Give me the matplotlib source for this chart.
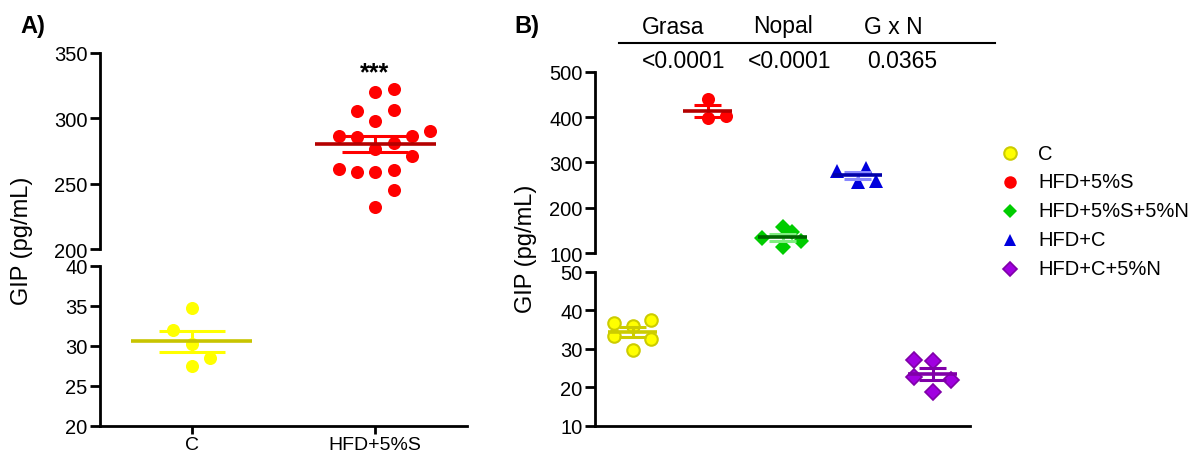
import numpy as np
import matplotlib
matplotlib.use("Agg")
import matplotlib.pyplot as plt
from matplotlib.lines import Line2D

plt.rcParams['font.family'] = ['Liberation Sans', 'DejaVu Sans']

# ---------------- data ----------------
a_categories = ["C", "HFD+5%S"]
a_c_values = [34.8, 32.0, 30.2, 28.5, 27.5]
a_hfd_values = [320.0, 322.5, 305.4, 306.4, 297.7, 286.2, 285.5, 286.2, 290.0,
                280.9, 276.6, 271.4, 261.3, 259.2, 258.7, 260.5, 245.2, 232.4]

b_groups = ["C", "HFD+5%S", "HFD+5%S+5%N", "HFD+C", "HFD+C+5%N"]
b_c_values = [36.7, 36.0, 37.5, 33.4, 32.5, 29.7]
b_hfd_s_values = [440.0, 398.0, 403.0]
b_hfd_s_n_values = [132.5, 156.7, 145.7, 127.2, 112.6]
b_hfd_c_values = [281.6, 286.9, 256.0, 259.6]
b_hfd_c_n_values = [27.1, 26.7, 22.6, 21.9, 18.7]

stats_headers = ["Grasa", "Nopal", "G x N"]
stats_pvalues = ["<0.0001", "<0.0001", "0.0365"]

a_upper_ticks = [200, 250, 300, 350]
a_lower_ticks = [20, 25, 30, 35, 40]
b_upper_ticks = [100, 200, 300, 400, 500]
b_lower_ticks = [10, 20, 30, 40, 50]

# ---------------- layout (horizontal scatter offsets, category units) ----------------
a_c_offsets = [0, -0.1, 0, 0.1, 0]
a_hfd_offsets = [0, 0.1, -0.1, 0.1, 0, -0.2, -0.1, 0.2, 0.3,
                 0.1, 0, 0.2, -0.2, -0.1, 0, 0.1, 0.1, 0]
b_c_offsets = [-0.25, 0, 0.25, -0.25, 0.25, 0]
b_hfd_s_offsets = [0, 0, 0.25]
b_hfd_s_n_offsets = [-0.27, 0, 0.13, 0.25, 0]
b_hfd_c_offsets = [-0.27, 0.11, 0, 0.25]
b_hfd_c_n_offsets = [-0.25, 0, -0.25, 0.25, 0]

W, H = 1198, 456
fig = plt.figure(figsize=(W / 100, H / 100), dpi=100)


def add_ax(x0, x1, ytop, ybot):
    return fig.add_axes([x0 / W, (H - ybot) / H, (x1 - x0) / W, (ybot - ytop) / H])


LW = 2.0
TICK_FS = 14.5


def style_axes(ax, bottom):
    ax.set_facecolor('none')
    for s in ['top', 'right']:
        ax.spines[s].set_visible(False)
    ax.spines['left'].set_linewidth(LW)
    if bottom:
        ax.spines['bottom'].set_linewidth(LW)
    else:
        ax.spines['bottom'].set_visible(False)
        ax.tick_params(axis='x', bottom=False, labelbottom=False)
    ax.tick_params(axis='y', direction='out', length=7, width=LW, labelsize=TICK_FS, pad=2)


def draw_group(ax, x, vals, offs, marker, ms, fc, ec, mew, mean_c, sem_c):
    vals = np.asarray(vals, float)
    xs = x + np.asarray(offs, float)
    ax.plot(xs, vals, linestyle='none', marker=marker, ms=ms, mfc=fc, mec=ec, mew=mew,
            zorder=3, clip_on=False)
    m = vals.mean()
    sem = vals.std(ddof=1) / np.sqrt(len(vals))
    ax.hlines([m + sem, m - sem], x - 0.18, x + 0.18, colors=sem_c, lw=2.2, zorder=4)
    ax.vlines(x, m - sem, m + sem, colors=sem_c, lw=2.2, zorder=4)
    ax.hlines(m, x - 0.33, x + 0.33, colors=mean_c, lw=2.6, zorder=5)


# ---------------- Panel A ----------------
axA_up = add_ax(100, 467, 54, 250)
axA_lo = add_ax(100, 467, 267, 427)
for ax in (axA_up, axA_lo):
    ax.set_xlim(-0.5, 1.5)
axA_up.set_ylim(200, 350)
axA_lo.set_ylim(20, 40)
style_axes(axA_up, bottom=False)
style_axes(axA_lo, bottom=True)
axA_up.set_yticks(a_upper_ticks)
axA_lo.set_yticks(a_lower_ticks)
axA_lo.set_xticks([0, 1])
axA_lo.set_xticklabels(a_categories, fontsize=14)
axA_lo.tick_params(axis='x', direction='out', length=6, width=LW, pad=1.5)

draw_group(axA_lo, 0, a_c_values, a_c_offsets, 'o', 9.4, '#ffff00', '#ffff00', 0,
           '#c8c400', '#ffff00')
draw_group(axA_up, 1, a_hfd_values, a_hfd_offsets, 'o', 9.4, '#ff0000', '#ff0000', 0,
           '#b40000', '#ff0000')

fig.text(375 / W, 1 - 73 / H, "***", ha='center', va='center', fontsize=18, fontweight='bold')

fig.text(22 / W, 1 - 241 / H, "GIP (pg/mL)", rotation=90, ha='center', va='center', fontsize=17)
fig.text(20 / W, 1 - 26 / H, "A)", ha='left', va='center', fontsize=17, fontweight='bold')

# ---------------- Panel B ----------------
axB_up = add_ax(595, 970, 72.7, 254)
axB_lo = add_ax(595, 970, 272.7, 426.7)
for ax in (axB_up, axB_lo):
    ax.set_xlim(-0.5, 4.5)
axB_up.set_ylim(100, 500)
axB_lo.set_ylim(10, 50)
style_axes(axB_up, bottom=False)
style_axes(axB_lo, bottom=True)
axB_lo.tick_params(axis='x', bottom=False, labelbottom=False)
axB_up.set_yticks(b_upper_ticks)
axB_lo.set_yticks(b_lower_ticks)

styles = [
    dict(marker='o', ms=9.0, fc='#ffff00', ec='#cccc00', mew=1.5, mean_c='#cccc00', sem_c='#cccc00'),
    dict(marker='o', ms=9.4, fc='#ff0000', ec='#ff0000', mew=0, mean_c='#b40000', sem_c='#ff0000'),
    dict(marker='D', ms=8.2, fc='#00cc00', ec='#00cc00', mew=0, mean_c='#006400', sem_c='#80ee80'),
    dict(marker='^', ms=9.8, fc='#0000dd', ec='#0000dd', mew=0, mean_c='#0000aa', sem_c='#8888ff'),
    dict(marker='D', ms=8.0, fc='#a000e0', ec='#8000a8', mew=1.2, mean_c='#8000a8', sem_c='#8000a8'),
]
b_values = [b_c_values, b_hfd_s_values, b_hfd_s_n_values, b_hfd_c_values, b_hfd_c_n_values]
b_offsets = [b_c_offsets, b_hfd_s_offsets, b_hfd_s_n_offsets, b_hfd_c_offsets, b_hfd_c_n_offsets]
b_axes = [axB_lo, axB_up, axB_up, axB_up, axB_lo]

for i, (vals, offs, ax, st) in enumerate(zip(b_values, b_offsets, b_axes, styles)):
    draw_group(ax, i, vals, offs, st['marker'], st['ms'], st['fc'], st['ec'], st['mew'],
               st['mean_c'], st['sem_c'])

fig.text(526 / W, 1 - 249 / H, "GIP (pg/mL)", rotation=90, ha='center', va='center', fontsize=17)
fig.text(514 / W, 1 - 26 / H, "B)", ha='left', va='center', fontsize=17, fontweight='bold')

# stats table
head_x = [673, 783, 893]
val_x = [684, 790, 902]
for hx, h in zip(head_x, stats_headers):
    fig.text(hx / W, 1 - 27 / H, h, ha='center', va='center', fontsize=16.5)
for vx, v in zip(val_x, stats_pvalues):
    fig.text(vx / W, 1 - 62 / H, v, ha='center', va='center', fontsize=16.5)
fig.add_artist(Line2D([619 / W, 995 / W], [1 - 43.5 / H, 1 - 43.5 / H], color='black', lw=1.5))

# legend
leg_y = [154, 183, 212, 241, 270]
leg_ms = [9.0, 9.0, 7.5, 8.5, 7.5]
for gname, st, ly, lms in zip(b_groups, styles, leg_y, leg_ms):
    fig.add_artist(Line2D([1010 / W], [1 - ly / H], linestyle='none', marker=st['marker'],
                          ms=lms, mfc=st['fc'], mec=st['ec'], mew=st['mew']))
    fig.text(1038 / W, 1 - ly / H, gname, ha='left', va='center', fontsize=14.5)

fig.savefig("out.png", dpi=100)
